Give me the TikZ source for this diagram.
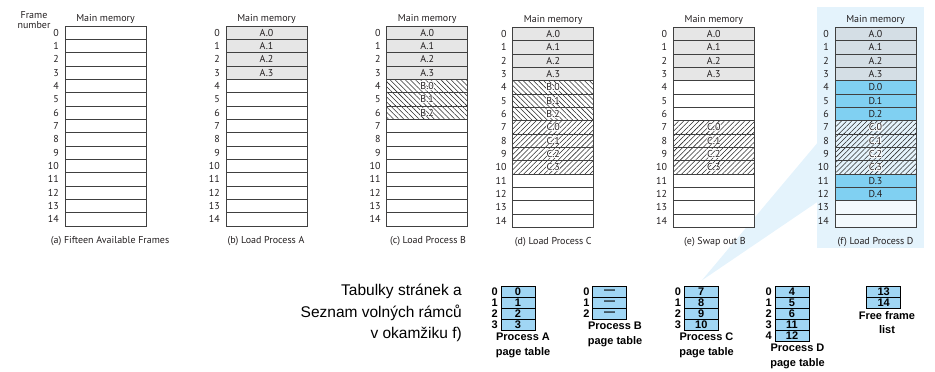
\documentclass[tikz,border=0pt]{standalone}
\usepackage{fontspec}
\setmainfont{PT Sans}
\newfontfamily\arialfont{Liberation Sans}
\usetikzlibrary{patterns.meta}

\definecolor{hlblue}{RGB}{228,243,252}
\definecolor{agray}{RGB}{230,230,230}
\definecolor{fagray}{RGB}{212,222,229}
\definecolor{dblue}{RGB}{128,208,242}
\definecolor{feblue}{RGB}{243,249,253}
\definecolor{ptblue}{RGB}{160,214,244}
\definecolor{cellline}{RGB}{64,64,64}
\definecolor{hatchline}{RGB}{45,45,45}
\definecolor{memtxt}{RGB}{35,31,32}

% label with a thin white halo, used on hatched frames
\newcommand\halotext[1]{%
  \rlap{\kern0.75pt\textcolor{white}{#1}}%
  \rlap{\kern-0.75pt\textcolor{white}{#1}}%
  \rlap{\raisebox{0.75pt}{\textcolor{white}{#1}}}%
  \rlap{\raisebox{-0.75pt}{\textcolor{white}{#1}}}%
  \rlap{\kern0.55pt\raisebox{0.55pt}{\textcolor{white}{#1}}}%
  \rlap{\kern-0.55pt\raisebox{0.55pt}{\textcolor{white}{#1}}}%
  \rlap{\kern0.55pt\raisebox{-0.55pt}{\textcolor{white}{#1}}}%
  \rlap{\kern-0.55pt\raisebox{-0.55pt}{\textcolor{white}{#1}}}%
  #1}

\tikzset{
  memfont/.style={font=\fontsize{10}{11}\selectfont, text=memtxt},
  memcell/.style={draw=cellline, line width=0.7pt, minimum width=81pt,
    minimum height=13.333pt, inner sep=0pt, outer sep=0pt, anchor=north west, memfont},
  kind/.style={#1},
  pe/.style={fill=white},
  pa/.style={fill=agray},
  hb/.style={pattern={Lines[angle=-45,distance=3.6pt,line width=0.55pt]}, pattern color=hatchline},
  hc/.style={pattern={Lines[angle=45,distance=3.6pt,line width=0.55pt]}, pattern color=hatchline},
  fa/.style={fill=fagray},
  pd/.style={fill=dblue},
  fe/.style={fill=feblue},
  memhead/.style={memfont, inner sep=0pt},
  rownum/.style={memfont, inner sep=0pt, anchor=east},
  memcap/.style={memfont, inner sep=0pt},
  ptcell/.style={draw=black, line width=1pt, fill=ptblue, minimum width=34pt,
    minimum height=11pt, inner sep=0pt, outer sep=0pt, anchor=north west,
    font=\arialfont\bfseries\fontsize{11}{11}\selectfont},
  ptidx/.style={inner sep=0pt, anchor=east, font=\arialfont\bfseries\fontsize{11}{11}\selectfont},
  ptcap/.style={inner sep=0pt, anchor=north, align=center,
    font=\arialfont\bfseries\fontsize{11}{14.5}\selectfont},
  sidetext/.style={inner sep=0pt, anchor=base east, font=\arialfont\fontsize{15.5}{18}\selectfont},
}

% #1 name, #2 left x, #3 top y, #4 caption centre x, #5 caption, #6 frames (kind/label)
\newcommand\mempanel[6]{%
  \node[memhead] (#1-head) at ({#2+40.5},{#3-7.5}) {Main memory};
  \foreach \st/\lab [count=\r from 0] in {#6} {
    \node[memcell, kind/.expand once=\st] (#1-\r) at (#2,{#3+\r*13.333}) {\lab};
    \node[rownum] (#1-n\r) at ({#2-6},{#3+\r*13.333+6.667}) {\r};
  }
  \node[memcap] (#1-cap) at (#4,{#3+215}) {#5};
}

% #1 name, #2 left x, #3 entries, #4 caption centre x, #5 caption top y, #6 caption
\newcommand\pagetable[6]{%
  \foreach \v [count=\r from 0] in {#3} {
    \node[ptcell] (#1-\r) at (#2,{286.5+\r*11}) {\v};
    \node[ptidx] (#1-i\r) at ({#2-3},{292+\r*11}) {\r};
  }
  \node[ptcap] (#1-cap) at (#4,#5) {#6};
}

\begin{document}
\begin{tikzpicture}[x=1pt,y=-1pt]
\useasboundingbox (0,0) rectangle (935,372);

% highlight behind panel (f) and the callout towards the page tables
\fill[hlblue] (817.3,7) rectangle (924,248.3);
\fill[hlblue] (817.3,143) -- (817.3,202) -- (701.7,280.5) -- cycle;

\node[memfont, align=center, inner sep=0pt] (fn) at (34,20.3) {Frame\\[-0.5pt]number};

\mempanel{a}{65}{26}{110}{(a) Fifteen Available Frames}
  {pe/{},pe/{},pe/{},pe/{},pe/{},pe/{},pe/{},pe/{},pe/{},pe/{},pe/{},pe/{},pe/{},pe/{},pe/{}}
\mempanel{b}{226}{26}{266}{(b) Load Process A}
  {pa/A.0,pa/A.1,pa/A.2,pa/A.3,pe/{},pe/{},pe/{},pe/{},pe/{},pe/{},pe/{},pe/{},pe/{},pe/{},pe/{}}
\mempanel{c}{386.7}{26}{428}{(c) Load Process B}
  {pa/A.0,pa/A.1,pa/A.2,pa/A.3,hb/\halotext{B.0},hb/\halotext{B.1},hb/\halotext{B.2},
   pe/{},pe/{},pe/{},pe/{},pe/{},pe/{},pe/{},pe/{}}
\mempanel{d}{512.7}{27.3}{553.3}{(d) Load Process C}
  {pa/A.0,pa/A.1,pa/A.2,pa/A.3,hb/\halotext{B.0},hb/\halotext{B.1},hb/\halotext{B.2},
   hc/\halotext{C.0},hc/\halotext{C.1},hc/\halotext{C.2},hc/\halotext{C.3},
   pe/{},pe/{},pe/{},pe/{}}
\mempanel{e}{673.3}{27.3}{715}{(e) Swap out B}
  {pa/A.0,pa/A.1,pa/A.2,pa/A.3,pe/{},pe/{},pe/{},
   hc/\halotext{C.0},hc/\halotext{C.1},hc/\halotext{C.2},hc/\halotext{C.3},
   pe/{},pe/{},pe/{},pe/{}}
\mempanel{f}{835}{27.3}{875.5}{(f) Load Process D}
  {fa/A.0,fa/A.1,fa/A.2,fa/A.3,pd/D.0,pd/D.1,pd/D.2,
   hc/\halotext{C.0},hc/\halotext{C.1},hc/\halotext{C.2},hc/\halotext{C.3},
   pd/D.3,pd/D.4,fe/{},fe/{}}

% page tables and free frame list at the moment (f)
\node[sidetext] (t1) at (462,295.5) {Tabulky stránek a};
\node[sidetext] (t2) at (462,317) {Seznam volných rámců};
\node[sidetext] (t3) at (462,338.5) {v okamžiku f)};

\pagetable{pa}{501}{0,1,2,3}{523}{333}{Process A\\page table}
\pagetable{pb}{592.7}{—,—,—}{615}{322}{Process B\\page table}
\pagetable{pc}{684.3}{7,8,9,10}{706.5}{333}{Process C\\page table}
\pagetable{pd}{775}{4,5,6,11,12}{797.5}{344}{Process D\\page table}

\foreach \v [count=\r from 0] in {13,14}
  \node[ptcell] (ff-\r) at (866.7,{286.5+\r*11}) {\v};
\node[ptcap] (ff-cap) at (887,311) {Free frame\\list};
\end{tikzpicture}
\end{document}
